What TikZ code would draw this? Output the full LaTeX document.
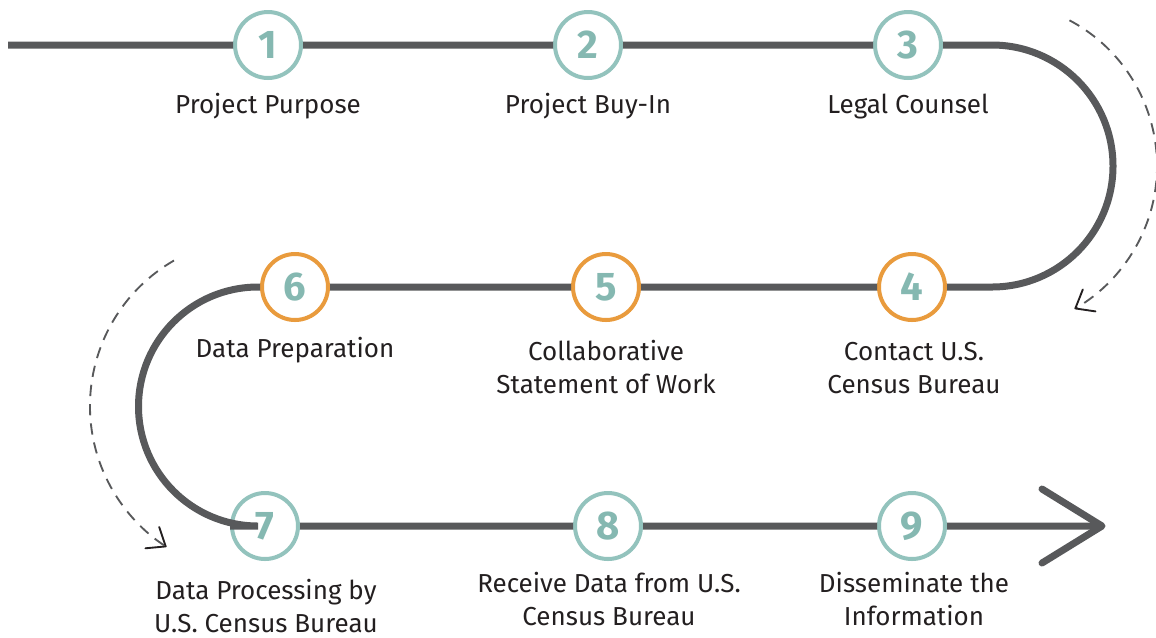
\documentclass[tikz,border=0pt]{standalone}
\usepackage{fontspec}
\setmainfont{Fira Sans}
\usetikzlibrary{arrows.meta}
\definecolor{ringteal}{HTML}{93C3BD}
\definecolor{numteal}{HTML}{85B8B1}
\definecolor{ringorange}{HTML}{E99B3D}
\definecolor{trackgray}{HTML}{58595B}
\definecolor{labelink}{HTML}{231F20}
\begin{document}
\begin{tikzpicture}[x=0.75pt,y=0.75pt,
  track/.style={draw=trackgray,line width=5.25pt},
  stepnode/.style={circle,draw=#1,line width=3pt,fill=white,minimum size=49.5pt,
    inner sep=0pt,text=numteal,font=\fontsize{30}{30}\selectfont\bfseries},
  steplabel/.style={text=labelink,font=\fontsize{19.5}{24.75}\selectfont,align=center,
    anchor=base,inner sep=0pt},
  guide/.style={draw=trackgray,line width=1.4pt,dash pattern=on 8.5pt off 6pt,
    -{Straight Barb[length=12pt,width=19pt,line width=1.4pt,color=labelink,round]}}
]
\useasboundingbox (0,0) rectangle (1156,-637);

% step circles
\node[stepnode=ringteal]   (n1) at (268,-45)  {1};
\node[stepnode=ringteal]   (n2) at (588,-45)  {2};
\node[stepnode=ringteal]   (n3) at (908,-45)  {3};
\node[stepnode=ringorange] (n4) at (912,-287) {4};
\node[stepnode=ringorange] (n5) at (606,-287) {5};
\node[stepnode=ringorange] (n6) at (295,-287) {6};
\node[stepnode=ringteal]   (n7) at (265,-526) {7};
\node[stepnode=ringteal]   (n8) at (608,-526) {8};
\node[stepnode=ringteal]   (n9) at (912,-526) {9};

% track geometry
\coordinate (start) at (8,-45);
\coordinate (rtop) at (992,-45);
\coordinate (ltop) at (258,-287);
\coordinate (tip) at (1102,-526);
\coordinate (rc) at (992,-166);
\coordinate (lc) at (258,-406);

% winding track
\draw[track] (start) -- (n1) -- (n2) -- (n3) -- (rtop)
  arc[start angle=90,end angle=-90,radius=121] -- (n4) -- (n5) -- (n6) -- (ltop)
  arc[start angle=90,end angle=270,radius=119.5] -- (n7) -- (n8) -- (n9) -- (tip);
\draw[track,line cap=round,line join=round]
  ([shift={(-60,37)}]tip) -- (tip) -- ([shift={(-60,-37)}]tip);

% dashed turn guides
\draw[guide] ([shift={(62:165)}]rc) arc[start angle=62,end angle=-60,radius=165];
\draw[guide] ([shift={(120:168)}]lc) arc[start angle=120,end angle=237,radius=168];

% labels (anchor on the baseline of the last line)
\node[steplabel] (t1) at (268,-113) {Project Purpose};
\node[steplabel] (t2) at (588,-113) {Project Buy-In};
\node[steplabel] (t3) at (908,-113) {Legal Counsel};
\node[steplabel] (t4) at (914,-393) {Contact U.S.\\Census Bureau};
\node[steplabel] (t5) at (606,-393) {Collaborative\\Statement of Work};
\node[steplabel] (t6) at (295,-357) {Data Preparation};
\node[steplabel] (t7) at (266,-632) {Data Processing by\\U.S. Census Bureau};
\node[steplabel] (t8) at (609,-625) {Receive Data from U.S.\\Census Bureau};
\node[steplabel] (t9) at (914,-625) {Disseminate the\\Information};
\end{tikzpicture}
\end{document}
